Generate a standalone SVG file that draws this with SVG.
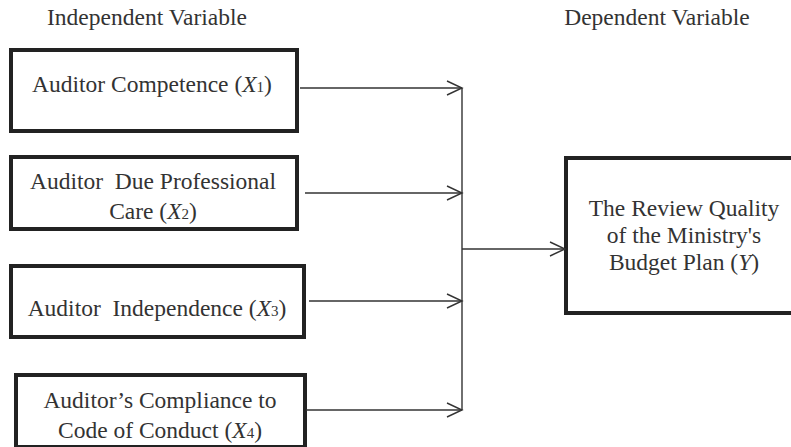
<svg xmlns="http://www.w3.org/2000/svg" width="791" height="447" viewBox="0 0 791 447">
<style>
.box{fill:#fff;stroke:#222;stroke-width:4}
.t{font-family:"Liberation Serif","Times New Roman",serif;font-size:23.5px;fill:#333;text-anchor:middle}
.s{font-size:15px}
.c{stroke:#333;stroke-width:1.4;fill:none}
.h{stroke:#333;stroke-width:1.4;fill:none}
</style>
<defs>
<marker id="ah" markerWidth="20" markerHeight="20" refX="16" refY="8" orient="auto" markerUnits="userSpaceOnUse">
<path d="M1,1 L16,8 L1,15" class="h"/>
</marker>
</defs>
<text class="t" x="147" y="25">Independent Variable</text>
<text class="t" x="657" y="25">Dependent Variable</text>
<g id="n1">
<rect class="box" x="11" y="50" width="286" height="81"/>
<text class="t" x="152" y="92">Auditor Competence (<tspan font-style="italic">X</tspan><tspan class="s">1</tspan>)</text>
</g>
<g id="n2">
<rect class="box" x="11" y="157" width="286" height="72"/>
<text class="t" x="153" y="189" xml:space="preserve">Auditor  Due Professional</text>
<text class="t" x="153" y="219">Care (<tspan font-style="italic">X</tspan><tspan class="s">2</tspan>)</text>
</g>
<g id="n3">
<rect class="box" x="11" y="266" width="293" height="71"/>
<text class="t" x="157" y="316" xml:space="preserve">Auditor  Independence (<tspan font-style="italic">X</tspan><tspan class="s">3</tspan>)</text>
</g>
<g id="n4">
<rect class="box" x="16" y="375" width="289" height="72"/>
<text class="t" x="160" y="408">Auditor’s Compliance to</text>
<text class="t" x="160" y="438">Code of Conduct (<tspan font-style="italic">X</tspan><tspan class="s">4</tspan>)</text>
</g>
<g id="n5">
<rect class="box" x="566" y="158" width="240" height="155"/>
<text class="t" x="684" y="216">The Review Quality</text>
<text class="t" x="684" y="243">of the Ministry's</text>
<text class="t" x="684" y="270">Budget Plan (<tspan font-style="italic">Y</tspan>)</text>
</g>
<g id="connectors">
<line class="c" x1="300" y1="88" x2="462" y2="88" marker-end="url(#ah)"/>
<line class="c" x1="305" y1="193" x2="462" y2="193" marker-end="url(#ah)"/>
<line class="c" x1="309" y1="301" x2="462" y2="301" marker-end="url(#ah)"/>
<line class="c" x1="306" y1="410" x2="462" y2="410" marker-end="url(#ah)"/>
<line class="c" x1="462" y1="88" x2="462" y2="410"/>
<line class="c" x1="462" y1="249" x2="565" y2="249" marker-end="url(#ah)"/>
</g>
</svg>
